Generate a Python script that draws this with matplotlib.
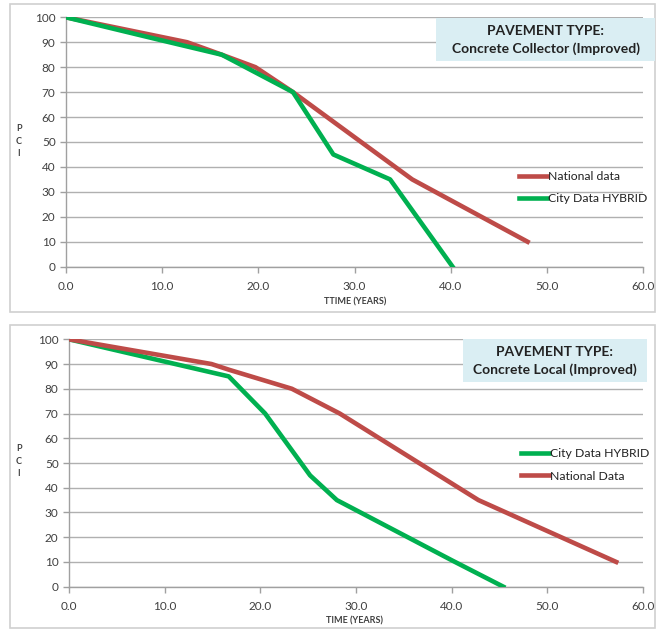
import matplotlib
matplotlib.use('Agg')
import matplotlib.pyplot as plt
from matplotlib.patches import Rectangle

# Dane - panel górny (Concrete Collector)
col_nat_x = [0, 12.6, 16.2, 19.7, 23.6, 36.0, 48.0]
col_nat_y = [100, 90, 85, 80, 70, 35, 10]
col_city_x = [0, 10.0, 16.2, 23.6, 27.8, 33.7, 40.2]
col_city_y = [100, 90.7, 85, 70, 45, 35, 0]

# Dane - panel dolny (Concrete Local)
loc_nat_x = [0, 14.9, 16.8, 23.3, 28.3, 42.8, 57.2]
loc_nat_y = [100, 90, 87.6, 80, 70, 35, 10]
loc_city_x = [0, 10.0, 16.7, 20.5, 25.2, 28.0, 40.1, 45.4]
loc_city_y = [100, 91, 85, 70, 45, 35, 10.5, 0]

x_ticks = [0, 10, 20, 30, 40, 50, 60]
y_ticks = [0, 10, 20, 30, 40, 50, 60, 70, 80, 90, 100]

RED = '#BE4B48'
GREEN = '#00B050'
TXT = '#404040'
W, H = 657, 629

plt.rcParams['font.family'] = ['Lato', 'DejaVu Sans']

fig = plt.figure(figsize=(W / 100, H / 100), dpi=100)

# ramki paneli
for (x0, y0, x1, y1) in [(10, 4, 655, 312), (10, 325, 655, 628)]:
    fig.patches.append(Rectangle((x0 / W, 1 - y1 / H), (x1 - x0) / W, (y1 - y0) / H,
                                 transform=fig.transFigure, fill=False,
                                 edgecolor='#D0D0D0', lw=1.2))


def make_panel(rect, series, title, xlabel, leg_pos, xlab_y, ylab_y):
    ax = fig.add_axes(rect)
    for x, y, c, lab in series:
        ax.plot(x, y, color=c, lw=3.3, label=lab, solid_joinstyle='round', zorder=3)
    ax.set_xlim(0, 60)
    ax.set_ylim(0, 100)
    ax.set_xticks(x_ticks)
    ax.set_xticklabels(['%.1f' % t for t in x_ticks])
    ax.set_yticks(y_ticks)
    ax.grid(axis='y', color='#B0B0B0', lw=1.0, zorder=0)
    for s in ['top', 'right']:
        ax.spines[s].set_visible(False)
    for s in ['left', 'bottom']:
        ax.spines[s].set_color('#A0A0A0')
        ax.spines[s].set_linewidth(1.0)
    ax.tick_params(colors='#A0A0A0', labelcolor=TXT, labelsize=8.5, length=4, width=1)
    ax.tick_params(axis='x', pad=6)
    # napisy osi
    fig.text(355 / W, 1 - xlab_y / H, xlabel, ha='center', va='center',
             fontsize=6.5, fontweight='bold', color=TXT)
    fig.text(19 / W, 1 - ylab_y / H, 'P\nC\nI', ha='center', va='center',
             fontsize=6.5, fontweight='bold', color=TXT, linespacing=1.5)
    # ramka z tytułem
    box = title[0]
    fig.patches.append(Rectangle((box[0] / W, 1 - box[3] / H), (box[2] - box[0]) / W,
                                 (box[3] - box[1]) / H, transform=fig.transFigure,
                                 facecolor='#DAEEF3', edgecolor='none', zorder=5))
    cx = (box[0] + box[2]) / 2
    fig.text(cx / W, 1 - (box[1] + 13) / H, 'PAVEMENT TYPE:', ha='center', va='center',
             fontsize=10, fontweight='bold', color='#222222', zorder=6)
    fig.text(cx / W, 1 - (box[1] + 31) / H, title[1], ha='center', va='center',
             fontsize=10, fontweight='bold', color='#222222', zorder=6)
    leg = ax.legend(loc='upper left', bbox_to_anchor=leg_pos,
                    frameon=False, fontsize=8.8, handlelength=2.3, handletextpad=0.05,
                    labelspacing=0.95, borderaxespad=0)
    for t in leg.get_texts():
        t.set_color('#222222')
    return ax


make_panel([66 / W, 1 - 266.7 / H, (643 - 66) / W, (266.7 - 17.3) / H],
           [(col_nat_x, col_nat_y, RED, 'National data'),
            (col_city_x, col_city_y, GREEN, 'City Data HYBRID')],
           ((436, 18, 655, 61), 'Concrete Collector (Improved)'),
           'TTIME (YEARS)', ((514 - 66) / (643 - 66), (266.7 - 166) / (266.7 - 17.3)),
           302, 141)

make_panel([69 / W, 1 - 586.7 / H, (643 - 69) / W, (586.7 - 339.3) / H],
           [(loc_city_x, loc_city_y, GREEN, 'City Data HYBRID'),
            (loc_nat_x, loc_nat_y, RED, 'National Data')],
           ((463, 339, 647, 382), 'Concrete Local (Improved)'),
           'TIME (YEARS)', ((516 - 69) / (643 - 69), (586.7 - 443) / (586.7 - 339.3)),
           621, 461)

fig.savefig('out.png', dpi=100)
